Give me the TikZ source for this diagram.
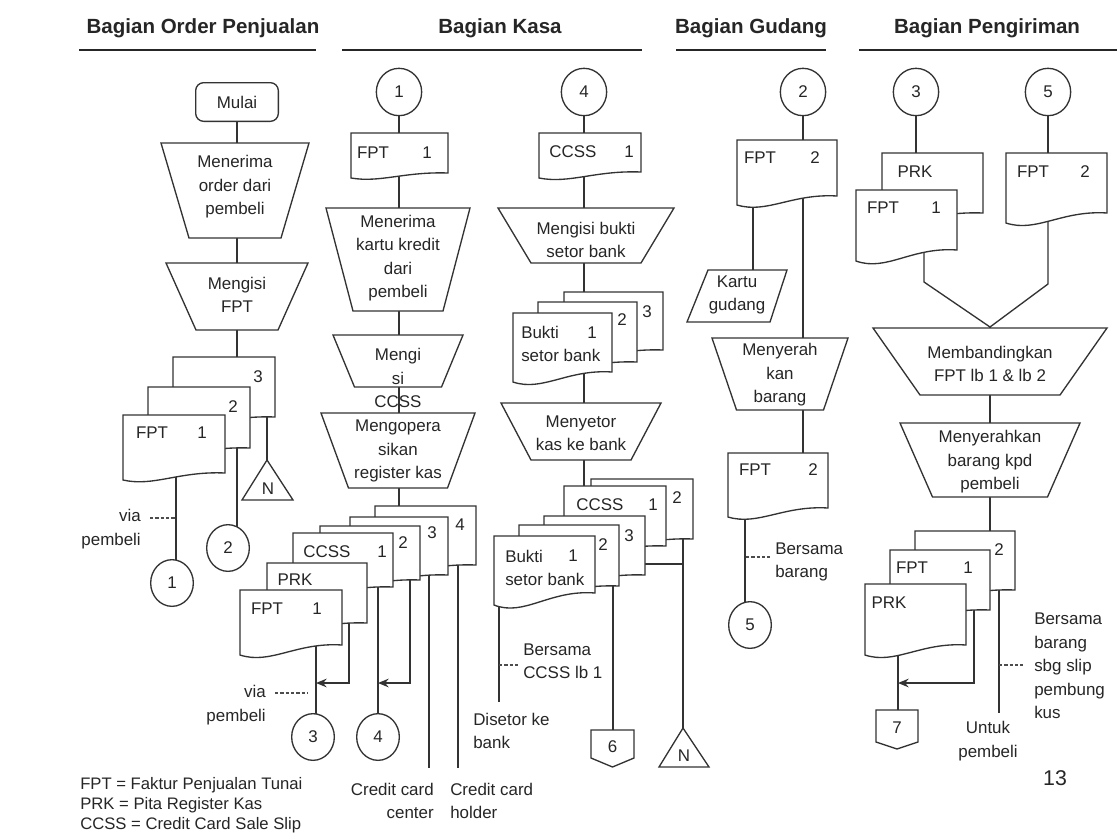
\documentclass[tikz,border=0pt]{standalone}
\usepackage{fontspec}
\setmainfont{Liberation Sans}
\usetikzlibrary{shapes.geometric,arrows.meta,backgrounds,calc}
\tikzset{
  shp/.style={draw=black!80, fill=white, line width=1pt},
  txt/.style={inner sep=0pt, align=center, text=black!85, font=\fontsize{12.7}{17.6}\selectfont},
  hdr/.style={inner sep=0pt, text=black!85, font=\fontsize{15.4}{18}\selectfont\bfseries},
  con/.style={draw=black!80, line width=1pt},
  arr/.style={con, -{Stealth[length=8pt,width=6.5pt]}},
  dsh/.style={draw=black!70, line width=0.8pt, dash pattern=on 2.5pt off 1.5pt},
  circ/.style={shp, ellipse, inner sep=0pt, minimum width=34pt, minimum height=35.5pt, text=black!85, font=\fontsize{12.7}{15}\selectfont},
  circb/.style={circ, minimum width=32pt, minimum height=35pt},
  uline/.style={draw=black!85, line width=2pt},
}
% document symbol: name, x1, y1, x2, y2 (bottom right), wave depth
\newcommand\Doc[6]{%
  \filldraw[shp] (#2,#3) -- (#4,#3) -- (#4,#5) .. controls ({#2+0.55*(#4-#2)},{#5-0.3*#6}) and ({#2+0.3*(#4-#2)},{#5+2*#6}) .. (#2,{#5+#6}) -- cycle;
  \coordinate (#1) at ({(#2+#4)/2},{(#3+#5)/2});
}
% manual operation trapezoid: name, cx, ytop, ybot, wtop, wbot, text y, text
\newcommand\Trap[8]{%
  \filldraw[shp] ({#2-#5/2},#3) -- ({#2+#5/2},#3) -- ({#2+#6/2},#4) -- ({#2-#6/2},#4) -- cycle;
  \node[txt] (#1) at (#2,#7) {#8};
}
\begin{document}
\begin{tikzpicture}[x=0.75pt,y=-0.75pt]
\useasboundingbox (0,0) rectangle (1117,832);

% headers
\node[hdr] (h1) at (203,28) {Bagian Order Penjualan};
\node[hdr] (h2) at (500,28) {Bagian Kasa};
\node[hdr] (h3) at (751,28) {Bagian Gudang};
\node[hdr] (h4) at (987,28) {Bagian Pengiriman};
\draw[uline] (79,50) -- (316,50);
\draw[uline] (342,50) -- (642,50);
\draw[uline] (676,50) -- (826,50);
\draw[uline] (859,50) -- (1117,50);

% ===== column 1 : Order Penjualan
\node[shp, rounded corners=6pt, minimum width=62pt, minimum height=29pt, txt] (m) at (237,102) {Mulai};
\Trap{t1}{235}{143}{238}{148}{92}{187}{Menerima\\order dari\\pembeli}
\Trap{t2}{237}{263}{330}{142}{82}{295}{Mengisi\\FPT}
\Doc{d13}{173}{357}{275}{417}{6}
\node[txt] (l13) at (258,377) {3};
\Doc{d12}{148}{387}{250}{448}{6}
\node[txt] (l12) at (233,407) {2};
\Doc{d11}{123}{415}{225}{473}{7}
\node[txt] (l11a) at (152,433) {FPT};
\node[txt] (l11b) at (202,433) {1};
\filldraw[shp] (267,460) -- (293,500) -- (242,500) -- cycle;
\node[txt] (n1) at (268,489) {N};
\node[circb] (o1) at (172,583) {1};
\node[circb] (o2) at (228,548) {2};
\node[txt, align=right, anchor=east] (v1) at (141,529) {via\\pembeli};

% ===== column 2 : Kasa (left)
\node[circ] (c1) at (399,92) {1};
\Doc{k0}{351}{133}{448}{173}{5}
\node[txt] (k0a) at (373,153) {FPT};
\node[txt] (k0b) at (427,153) {1};
\Trap{t3}{398}{208}{311}{144}{90}{258}{Menerima\\kartu kredit\\dari\\pembeli}
\Trap{t4}{398}{335}{387}{130}{87}{378}{Mengi\\si\\CCSS}
\Trap{t5}{398}{413}{488}{154}{99}{451}{Mengopera\\sikan\\register kas}
\Doc{kd4}{375}{506}{476}{565}{6}
\node[txt] (lk4) at (460,525) {4};
\Doc{kd3}{350}{517}{448}{575}{6}
\node[txt] (lk3) at (432,533) {3};
\Doc{kd2}{320}{526}{420}{580}{6}
\node[txt] (lk2) at (403,543) {2};
\Doc{kc1}{293}{533}{393}{587}{6}
\node[txt] (lkc) at (327,552) {CCSS};
\node[txt] (lkc1) at (382,552) {1};
\Doc{kp}{267}{563}{367}{623}{6}
\node[txt] (lkp) at (295,580) {PRK};
\Doc{kf}{240}{590}{342}{645}{10}
\node[txt] (lkf) at (267,609) {FPT};
\node[txt] (lkf1) at (317,609) {1};
\node[circb] (o3) at (313,737) {3};
\node[circb] (o4) at (378,737) {4};
\node[txt, align=right, anchor=east] (v2) at (266,705) {via\\pembeli};
\node[txt, align=right, anchor=east] (cc1) at (434,801) {Credit card\\center};
\node[txt, align=left, anchor=west] (cc2) at (450,801) {Credit card\\holder};

% ===== column 3 : Kasa (right)
\node[circ] (c4) at (584,92) {4};
\Doc{b0}{539}{133}{641}{172}{6}
\node[txt] (b0a) at (573,152) {CCSS};
\node[txt] (b0b) at (629,152) {1};
\Trap{t6}{586}{208}{263}{176}{110}{240}{Mengisi bukti\\setor bank}
\Doc{ub3}{564}{292}{663}{350}{6}
\node[txt] (lu3) at (647,312) {3};
\Doc{ub2}{538}{302}{637}{362}{6}
\node[txt] (lu2) at (622,320) {2};
\Doc{ub1}{513}{313}{612}{372}{10}
\node[txt, align=left, anchor=west] (lu1) at (521,344) {Bukti\\setor bank};
\node[txt] (lu1b) at (592,333) {1};
\Trap{t7}{581}{403}{460}{160}{100}{433}{Menyetor\\kas ke bank}
\Doc{lc2}{591}{479}{693}{539}{6}
\node[txt] (llc2) at (677,498) {2};
\Doc{lc1}{564}{486}{666}{546}{6}
\node[txt] (llc) at (600,505) {CCSS};
\node[txt] (llc1) at (653,505) {1};
\Doc{lb3}{544}{516}{645}{575}{6}
\node[txt] (llb3) at (629,536) {3};
\Doc{lb2}{519}{525}{619}{586}{6}
\node[txt] (llb2) at (603,545) {2};
\Doc{lb1}{494}{536}{595}{593}{12}
\node[txt, align=left, anchor=west] (llb1) at (505,568) {Bukti\\setor bank};
\node[txt] (llb1b) at (573,556) {1};
\filldraw[shp] (591,730) -- (634,730) -- (634,758) -- (612.5,767) -- (591,758) -- cycle;
\node[txt] (p6) at (612.5,747) {6};
\filldraw[shp] (683,728) -- (709,767) -- (659,767) -- cycle;
\node[txt] (n2) at (684,756) {N};
\node[txt, align=left, anchor=west] (ds) at (473,731) {Disetor ke\\bank};
\node[txt, align=left, anchor=west] (bc) at (523,661) {Bersama\\CCSS lb 1};

% ===== column 4 : Gudang
\node[circ] (c2) at (803,92) {2};
\Doc{g1}{737}{140}{837}{196}{9}
\node[txt] (g1a) at (760,158) {FPT};
\node[txt] (g1b) at (815,158) {2};
\filldraw[shp] (708,270) -- (787,270) -- (770,322) -- (687,322) -- cycle;
\node[txt] (kg) at (737,295) {Kartu\\gudang};
\Trap{t8}{780}{338}{410}{136}{87}{375}{Menyerah\\kan\\barang}
\Doc{g2}{728}{453}{828}{508}{9}
\node[txt] (g2a) at (755,470) {FPT};
\node[txt] (g2b) at (813,470) {2};
\node[circb] (o5) at (750,625) {5};
\node[txt, align=left, anchor=west] (bb) at (775,562) {Bersama\\barang};

% ===== column 5 : Pengiriman
\node[circ] (c3) at (916,92) {3};
\node[circ] (c5) at (1048,92) {5};
\Doc{e1}{882}{153}{983}{213}{6}
\node[txt] (e1a) at (915,172) {PRK};
\Doc{e2}{856}{190}{957}{250}{11}
\node[txt] (e2a) at (883,208) {FPT};
\node[txt] (e2b) at (936,208) {1};
\Doc{e3}{1006}{153}{1107}{213}{10}
\node[txt] (e3a) at (1033,172) {FPT};
\node[txt] (e3b) at (1085,172) {2};
\coordinate (ap) at (990,327);
\Trap{t9}{990}{328}{395}{234}{140}{364}{Membandingkan\\FPT lb 1 \& lb 2}
\Trap{t10}{990}{423}{497}{180}{115}{462}{Menyerahkan\\barang kpd\\pembeli}
\Doc{e5}{915}{531}{1015}{590}{6}
\node[txt] (e5a) at (999,550) {2};
\Doc{e6}{890}{550}{990}{610}{6}
\node[txt] (e6a) at (912,568) {FPT};
\node[txt] (e6b) at (968,568) {1};
\Doc{e7}{865}{584}{966}{645}{10}
\node[txt] (e7a) at (889,603) {PRK};
\filldraw[shp] (876,710) -- (918,710) -- (918,742) -- (897,749) -- (876,742) -- cycle;
\node[txt] (p7) at (897,728) {7};
\node[txt, align=left, anchor=west] (bs) at (1034,666) {Bersama\\barang\\sbg slip\\pembung\\kus};
\node[txt] (up) at (988,741) {Untuk\\pembeli};
\node[txt, font=\fontsize{16}{18}\selectfont] (pg) at (1055,778) {13};

% legend
\node[txt, align=left, anchor=west, font=\fontsize{12.5}{15}\selectfont] (leg) at (80,805) {FPT = Faktur Penjualan Tunai\\PRK = Pita Register Kas\\CCSS = Credit Card Sale Slip};

% ===== connectors (behind shapes)
\begin{pgfonlayer}{background}
\fill[white] (0,0) rectangle (1117,832);
% col 1
\draw[con] (m) -- (m |- d13);
\draw[con] (176,0 |- d11) -- (176,0 |- o1);
\draw[con] (237,0 |- d12) -- (237,0 |- o2);
\draw[con] (267,0 |- d13) -- (267,0 |- n1);
\draw[dsh] (150,518) -- (176,518);
% col 2
\draw[con] (c1) -- (c1 |- kd4);
\draw[con] (316,0 |- kf) -- (316,0 |- o3);
\draw[arr] (349,0 |- kp) |- (316,683);
\draw[con] (378,0 |- kc1) -- (378,0 |- o4);
\draw[arr] (410,0 |- kd2) |- (378,683);
\draw[con] (429,0 |- kd3) -- (429,768);
\draw[con] (458,0 |- kd4) -- (458,768);
\draw[dsh] (275,693) -- (308,693);
% col 3
\draw[con] (c4) -- (c4 |- lc1);
\draw[con] (499,0 |- lb1) -- (499,702);
\draw[con] (613,0 |- lb2) -- (613,0 |- p6);
\draw[con] (600,564) -- (683,564);
\draw[con] (683,0 |- lc2) -- (683,0 |- n2);
\draw[dsh] (499,665) -- (520,665);
% col 4
\draw[con] (c2) -- (c2 |- g2);
\draw[con] (753,0 |- g1) -- (753,0 |- kg);
\draw[con] (745,0 |- g2) -- (745,0 |- o5);
\draw[dsh] (746,557) -- (770,557);
% col 5
\draw[con] (c3) -- (c3 |- e1);
\draw[con] (c5) -- (c5 |- e3);
\draw[con] (924,0 |- e2) -- (924,282) -- (ap);
\draw[con] (1048,0 |- e3) -- (1048,284) -- (ap);
\draw[con] (ap) -- (ap |- e5);
\draw[con] (898,0 |- e7) -- (898,0 |- p7);
\draw[arr] (974,0 |- e6) |- (898,683);
\draw[con] (999,0 |- e5) -- (999,713);
\draw[dsh] (999,665) -- (1023,665);
\end{pgfonlayer}
\end{tikzpicture}
\end{document}
